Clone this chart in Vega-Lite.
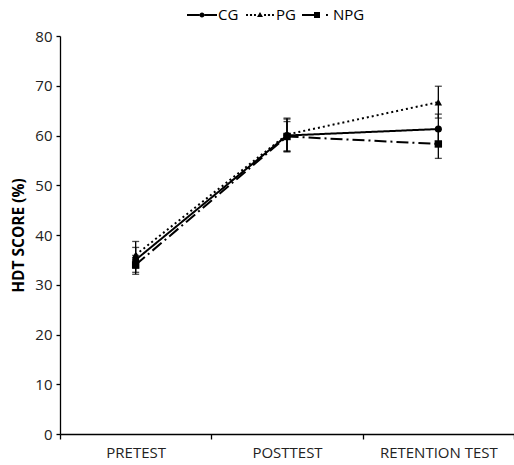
{
  "$schema": "https://vega.github.io/schema/vega-lite/v6.json",
  "width": 454,
  "height": 398,
  "autosize": "none",
  "padding": {"left": 60, "top": 36, "right": 0, "bottom": 31},
  "background": "white",
  "config": {
    "view": {"stroke": null},
    "font": "Open Sans",
    "axis": {"labelFont": "Open Sans", "titleFont": "Open Sans", "labelColor": "#222", "titleColor": "#000", "domainColor": "#000", "tickColor": "#000", "domainWidth": 1.3, "tickWidth": 1.3, "grid": false}
  },
  "data": {"values": [
    {"test": "PRETEST", "group": "CG", "score": 35, "lo": 32.5, "hi": 37.5},
    {"test": "PRETEST", "group": "PG", "score": 36, "lo": 33.3, "hi": 38.7},
    {"test": "PRETEST", "group": "NPG", "score": 34, "lo": 32.1, "hi": 35.9},
    {"test": "POSTTEST", "group": "CG", "score": 60, "lo": 56.7, "hi": 63.3},
    {"test": "POSTTEST", "group": "PG", "score": 60.2, "lo": 56.9, "hi": 63.5},
    {"test": "POSTTEST", "group": "NPG", "score": 59.8, "lo": 56.8, "hi": 62.8},
    {"test": "RETENTION TEST", "group": "CG", "score": 61.3, "lo": 58.3, "hi": 64.3},
    {"test": "RETENTION TEST", "group": "PG", "score": 66.7, "lo": 63.5, "hi": 69.9},
    {"test": "RETENTION TEST", "group": "NPG", "score": 58.3, "lo": 55.4, "hi": 61.2}
  ]},
  "encoding": {
    "x": {"field": "test", "type": "nominal", "sort": ["PRETEST", "POSTTEST", "RETENTION TEST"],
      "scale": {"paddingInner": 0, "paddingOuter": 0},
      "axis": {"title": null, "labelAngle": 0, "labelFontSize": 15, "tickBand": "extent", "tickSize": 5, "labelPadding": 6}}
  },
  "layer": [
    {
      "mark": {"type": "rule", "color": "#000", "strokeWidth": 1.3},
      "encoding": {
        "y": {"field": "lo", "type": "quantitative", "scale": {"domain": [0, 80]},
          "axis": {"title": "HDT SCORE (%)", "titleFontSize": 15.5, "titleFontWeight": "bold", "labelFontSize": 15, "values": [0,10,20,30,40,50,60,70,80], "tickSize": 4, "labelPadding": 4, "titlePadding": 8}},
        "y2": {"field": "hi"}}
    },
    {
      "mark": {"type": "tick", "color": "#000", "size": 7, "thickness": 1.3, "orient": "horizontal"},
      "encoding": {"y": {"field": "lo", "type": "quantitative",
          "axis": {"title": "HDT SCORE (%)", "titleFontSize": 15.5, "titleFontWeight": "bold", "labelFontSize": 15, "values": [0,10,20,30,40,50,60,70,80], "tickSize": 4, "labelPadding": 4, "titlePadding": 8}}}
    },
    {
      "mark": {"type": "tick", "color": "#000", "size": 7, "thickness": 1.3, "orient": "horizontal"},
      "encoding": {"y": {"field": "hi", "type": "quantitative",
          "axis": {"title": "HDT SCORE (%)", "titleFontSize": 15.5, "titleFontWeight": "bold", "labelFontSize": 15, "values": [0,10,20,30,40,50,60,70,80], "tickSize": 4, "labelPadding": 4, "titlePadding": 8}}}
    },
    {
      "mark": {"type": "line", "color": "#000", "strokeWidth": 2},
      "encoding": {
        "y": {"field": "score", "type": "quantitative",
          "axis": {"title": "HDT SCORE (%)", "titleFontSize": 15.5, "titleFontWeight": "bold", "labelFontSize": 15, "values": [0,10,20,30,40,50,60,70,80], "tickSize": 4, "labelPadding": 4, "titlePadding": 8}},
        "strokeDash": {"field": "group", "type": "nominal",
          "scale": {"domain": ["CG", "PG", "NPG"], "range": [[1, 0], [2, 3], [12, 4, 2, 4]]},
          "legend": {"title": null, "orient": "none", "legendX": 127, "legendY": -36, "direction": "horizontal",
            "labelFontSize": 15, "labelFont": "Open Sans", "labelColor": "#000", "symbolSize": 900, "columnPadding": 6, "labelOffset": 1,
            "symbolFillColor": "#000", "symbolStrokeWidth": 0, "symbolOpacity": 1}},
        "detail": {"field": "group"}
      }
    },
    {
      "mark": {"type": "point", "filled": true, "color": "#000", "size": 0},
      "encoding": {
        "y": {"field": "score", "type": "quantitative",
          "axis": {"title": "HDT SCORE (%)", "titleFontSize": 15.5, "titleFontWeight": "bold", "labelFontSize": 15, "values": [0,10,20,30,40,50,60,70,80], "tickSize": 4, "labelPadding": 4, "titlePadding": 8}},
        "shape": {"field": "group", "type": "nominal",
          "scale": {"domain": ["CG", "PG", "NPG"], "range": [
            "M-1,-0.067H-0.17V0.067H-1Z M0.17,-0.067H1V0.067H0.17Z M-0.17,0A0.17,0.17 0 1,0 0.17,0A0.17,0.17 0 1,0 -0.17,0Z",
            "M-0.93,-0.067H-0.8V0.067H-0.93Z M-0.67,-0.067H-0.53V0.067H-0.67Z M-0.4,-0.067H-0.27V0.067H-0.4Z M0.27,-0.067H0.4V0.067H0.27Z M0.53,-0.067H0.67V0.067H0.53Z M0.8,-0.067H0.93V0.067H0.8Z M0,-0.2L0.2,0.13L-0.2,0.13Z",
            "M-1,-0.067H-0.2V0.067H-1Z M-0.2,-0.2H0.2V0.2H-0.2Z M0.6,-0.067H0.73V0.067H0.6Z"]},
          "legend": null}
      }
    },
    {
      "transform": [{"filter": "datum.group === 'CG'"}],
      "mark": {"type": "point", "filled": true, "color": "#000", "opacity": 1, "size": 50, "shape": "circle"},
      "encoding": {
        "y": {"field": "score", "type": "quantitative",
          "axis": {"title": "HDT SCORE (%)", "titleFontSize": 15.5, "titleFontWeight": "bold", "labelFontSize": 15, "values": [0,10,20,30,40,50,60,70,80], "tickSize": 4, "labelPadding": 4, "titlePadding": 8}}
      }
    },
    {
      "transform": [{"filter": "datum.group === 'PG'"}],
      "mark": {"type": "point", "filled": true, "color": "#000", "opacity": 1, "size": 55, "shape": "triangle-up"},
      "encoding": {
        "y": {"field": "score", "type": "quantitative",
          "axis": {"title": "HDT SCORE (%)", "titleFontSize": 15.5, "titleFontWeight": "bold", "labelFontSize": 15, "values": [0,10,20,30,40,50,60,70,80], "tickSize": 4, "labelPadding": 4, "titlePadding": 8}}
      }
    },
    {
      "transform": [{"filter": "datum.group === 'NPG'"}],
      "mark": {"type": "point", "filled": true, "color": "#000", "opacity": 1, "size": 55, "shape": "square"},
      "encoding": {
        "y": {"field": "score", "type": "quantitative",
          "axis": {"title": "HDT SCORE (%)", "titleFontSize": 15.5, "titleFontWeight": "bold", "labelFontSize": 15, "values": [0,10,20,30,40,50,60,70,80], "tickSize": 4, "labelPadding": 4, "titlePadding": 8}}
      }
    }
  ]
}
